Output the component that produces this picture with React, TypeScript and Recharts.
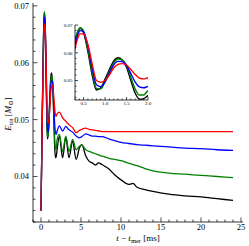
import { LineChart, Line, XAxis, YAxis } from "recharts";

// time after merger [ms]
const T = [
  0, 0.15, 0.3, 0.36, 0.42, 0.5, 0.6, 0.7, 0.8, 0.9, 1.0, 1.1, 1.2, 1.3, 1.4,
  1.5, 1.6, 1.7, 1.8, 1.9, 2.0, 2.3, 2.7, 3.1, 3.5, 3.95, 4.4, 4.8, 5.1, 5.6,
  6.0, 6.4, 6.8, 7.2, 7.6, 8.5, 9.2, 10, 11, 11.5, 12, 13, 14, 16, 18, 20, 22,
  24,
];

const BLACK = [
  0.034, 0.05, 0.064, 0.0675, 0.0688, 0.0672, 0.0605, 0.052, 0.0466, 0.0474,
  0.0505, 0.054, 0.057, 0.0582, 0.0574, 0.0548, 0.05, 0.0455, 0.0433, 0.0435,
  0.0446, 0.0471, 0.0433, 0.0469, 0.0433, 0.0462, 0.043, 0.045, 0.0456, 0.0436,
  0.0427, 0.0424, 0.042, 0.0424, 0.0421, 0.0413, 0.0403, 0.0394, 0.0386,
  0.0388, 0.0381, 0.0377, 0.0374, 0.0369, 0.0366, 0.0364, 0.0361, 0.0358,
];

const GREEN = [
  0.034, 0.0502, 0.0635, 0.0675, 0.069, 0.0678, 0.0615, 0.053, 0.0472, 0.047,
  0.0497, 0.0533, 0.0563, 0.0577, 0.0574, 0.0554, 0.0512, 0.047, 0.0448,
  0.0448, 0.0464, 0.0474, 0.0444, 0.0471, 0.0444, 0.0465, 0.0447, 0.0453,
  0.0455, 0.0447, 0.0444, 0.0442, 0.044, 0.0438, 0.0436, 0.0432, 0.043, 0.0428,
  0.0423, 0.0421, 0.0419, 0.0414, 0.041, 0.0406, 0.0404, 0.0402, 0.04, 0.0398,
];

const BLUE = [
  0.034, 0.0495, 0.0625, 0.0662, 0.068, 0.0675, 0.0625, 0.0545, 0.0485,
  0.0478, 0.0495, 0.0527, 0.0556, 0.0569, 0.0568, 0.0555, 0.0525, 0.0495,
  0.0477, 0.0474, 0.0479, 0.0489, 0.048, 0.0488, 0.0482, 0.0478, 0.0471,
  0.0468, 0.047, 0.0475, 0.0473, 0.0471, 0.0471, 0.047, 0.047, 0.0466, 0.0463,
  0.046, 0.0458, 0.0457, 0.0456, 0.0455, 0.0454, 0.0452, 0.045, 0.0449,
  0.0447, 0.0446,
];

const RED = [
  0.034, 0.049, 0.0615, 0.065, 0.0668, 0.0668, 0.063, 0.056, 0.05, 0.0494,
  0.05, 0.052, 0.0545, 0.0558, 0.0561, 0.0556, 0.054, 0.0522, 0.0509, 0.0506,
  0.051, 0.0513, 0.0503, 0.0497, 0.0491, 0.0486, 0.0477, 0.0481, 0.0483,
  0.0485, 0.0483, 0.0482, 0.0481, 0.048, 0.0479, 0.0479, 0.0479, 0.0479,
  0.0479, 0.0479, 0.0479, 0.0479, 0.0479, 0.0479, 0.0479, 0.0479, 0.0479,
  0.0479,
];

const X_MAJOR = [0, 5, 10, 15, 20, 25];
const X_LABELS = ["0", "5", "10", "15", "20", "25"];
const Y_MAJOR = [0.04, 0.05, 0.06, 0.07];
const Y_LABELS = ["0.04", "0.05", "0.06", "0.07"];
const INSET_X_MAJOR = [0.5, 1.0, 1.5, 2.0];
const INSET_X_LABELS = ["0.5", "1.0", "1.5", "2.0"];
const INSET_Y_MAJOR = [0.05, 0.06, 0.07];
const INSET_Y_LABELS = ["0.05", "0.06", "0.07"];

const SERIES = [
  { key: "black", color: "#000000" },
  { key: "green", color: "#008000" },
  { key: "blue", color: "#0000ff" },
  { key: "red", color: "#ff0000" },
];

const data = T.map((t, i) => ({
  t,
  black: BLACK[i],
  green: GREEN[i],
  blue: BLUE[i],
  red: RED[i],
}));

const FONT = "'Liberation Serif', 'DejaVu Serif', serif";

function steps(from: number, to: number, step: number) {
  const out: number[] = [];
  for (let v = from; v <= to + 1e-9; v += step) out.push(+v.toFixed(4));
  return out;
}

const X_TICKS = steps(-1, 25, 1);
const Y_TICKS = steps(0.032, 0.07, 0.002);
const INSET_X_TICKS = steps(0.3, 2.0, 0.1);
const INSET_Y_TICKS = steps(0.044, 0.07, 0.002);

// Ticks point into the plot; only majors get a label.
function makeTick(
  side: "bottom" | "top" | "left" | "right",
  majors: number[],
  labels: string[] | null,
  len: number,
  minorLen: number,
  fontSize: number,
  gap: number,
) {
  return (props: any) => {
    const { x, y, payload } = props;
    const idx = majors.findIndex((m) => Math.abs(m - payload.value) < 1e-6);
    const L = idx >= 0 ? len : minorLen;
    let line;
    if (side === "bottom") line = <line x1={x} x2={x} y1={y} y2={y - L} />;
    else if (side === "top") line = <line x1={x} x2={x} y1={y} y2={y + L} />;
    else if (side === "left") line = <line x1={x} x2={x + L} y1={y} y2={y} />;
    else line = <line x1={x} x2={x - L} y1={y} y2={y} />;
    return (
      <g stroke="#000" strokeWidth={0.7}>
        {line}
        {labels && idx >= 0 && side === "bottom" && (
          <text
            x={x}
            y={y + gap}
            textAnchor="middle"
            dy="0.71em"
            stroke="none"
            fill="#000"
            fontSize={fontSize}
            fontFamily={FONT}
          >
            {labels[idx]}
          </text>
        )}
        {labels && idx >= 0 && side === "left" && (
          <text
            x={x - gap}
            y={y}
            textAnchor="end"
            dy="0.35em"
            stroke="none"
            fill="#000"
            fontSize={fontSize}
            fontFamily={FONT}
          >
            {labels[idx]}
          </text>
        )}
      </g>
    );
  };
}

function XTitle() {
  return (
    <text x={138} y={241} textAnchor="middle" fontSize={9} fontFamily={FONT} fill="#000">
      <tspan fontStyle="italic">t</tspan>
      <tspan> − </tspan>
      <tspan fontStyle="italic">t</tspan>
      <tspan fontSize={6.5} dy={1.8}>mer</tspan>
      <tspan dy={-1.8}> [ms]</tspan>
    </text>
  );
}

function YTitle() {
  return (
    <text
      transform="translate(11,114) rotate(-90)"
      textAnchor="middle"
      fontSize={9}
      fontFamily={FONT}
      fill="#000"
    >
      <tspan fontStyle="italic">E</tspan>
      <tspan fontSize={6.5} dy={1.8}>tot</tspan>
      <tspan dy={-1.8}> [</tspan>
      <tspan fontStyle="italic">M</tspan>
      <tspan fontSize={6.5} dy={1.8}>⊙</tspan>
      <tspan dy={-1.8}>]</tspan>
    </text>
  );
}

const axisLine = { stroke: "#000", strokeWidth: 0.8 };

export default function App() {
  return (
    <div
      style={{
        position: "absolute",
        left: 0,
        top: 0,
        width: 249,
        height: 246,
        background: "#fff",
      }}
    >
      <LineChart
        width={249}
        height={246}
        data={data}
        margin={{ top: 3, right: 6, left: 0, bottom: 0 }}
      >
        <XAxis
          xAxisId="b"
          type="number"
          dataKey="t"
          domain={[-1, 25.25]}
          allowDataOverflow
          ticks={X_TICKS}
          interval={0}
          height={24}
          tickSize={0}
          tickMargin={0}
          tickLine={false}
          axisLine={axisLine}
          tick={makeTick("bottom", X_MAJOR, X_LABELS, 4.5, 2.5, 8.5, 2)}
          label={<XTitle />}
        />
        <XAxis
          xAxisId="t"
          orientation="top"
          type="number"
          dataKey="t"
          domain={[-1, 25.25]}
          allowDataOverflow
          ticks={X_TICKS}
          interval={0}
          height={0}
          tickSize={0}
          tickMargin={0}
          tickLine={false}
          axisLine={axisLine}
          tick={makeTick("top", X_MAJOR, null, 4.5, 2.5, 8.5, 2)}
        />
        <YAxis
          yAxisId="l"
          type="number"
          domain={[0.032, 0.0705]}
          allowDataOverflow
          ticks={Y_TICKS}
          interval={0}
          width={33}
          tickSize={0}
          tickMargin={0}
          tickLine={false}
          axisLine={axisLine}
          tick={makeTick("left", Y_MAJOR, Y_LABELS, 4.5, 2.5, 8.5, 4)}
          label={<YTitle />}
        />
        <YAxis
          yAxisId="r"
          orientation="right"
          type="number"
          domain={[0.032, 0.0705]}
          allowDataOverflow
          ticks={Y_TICKS}
          interval={0}
          width={0}
          tickSize={0}
          tickMargin={0}
          tickLine={false}
          axisLine={axisLine}
          tick={makeTick("right", Y_MAJOR, null, 4.5, 2.5, 8.5, 4)}
        />
        {SERIES.map((s) => (
          <Line
            key={s.key}
            xAxisId="b"
            yAxisId="l"
            type="monotone"
            dataKey={s.key}
            stroke={s.color}
            strokeWidth={1.3}
            dot={false}
            isAnimationActive={false}
          />
        ))}
      </LineChart>

      <div style={{ position: "absolute", left: 55, top: 20, width: 100, height: 92 }}>
        <div
          style={{
            position: "absolute",
            left: 20,
            top: 5,
            width: 73,
            height: 75,
            background: "#fff",
          }}
        />
        <LineChart
          width={100}
          height={92}
          data={data}
          margin={{ top: 5, right: 7, left: 0, bottom: 0 }}
        >
          <XAxis
            xAxisId="b"
            type="number"
            dataKey="t"
            domain={[0.3, 2.0]}
            allowDataOverflow
            ticks={INSET_X_TICKS}
            interval={0}
            height={12}
            tickSize={0}
            tickMargin={0}
            tickLine={false}
            axisLine={axisLine}
            tick={makeTick("bottom", INSET_X_MAJOR, INSET_X_LABELS, 3, 1.5, 5, 1.5)}
          />
          <XAxis
            xAxisId="t"
            orientation="top"
            type="number"
            dataKey="t"
            domain={[0.3, 2.0]}
            allowDataOverflow
            ticks={INSET_X_TICKS}
            interval={0}
            height={0}
            tickSize={0}
            tickMargin={0}
            tickLine={false}
            axisLine={axisLine}
            tick={makeTick("top", INSET_X_MAJOR, null, 3, 1.5, 5, 1.5)}
          />
          <YAxis
            yAxisId="l"
            type="number"
            domain={[0.043, 0.07]}
            allowDataOverflow
            ticks={INSET_Y_TICKS}
            interval={0}
            width={20}
            tickSize={0}
            tickMargin={0}
            tickLine={false}
            axisLine={axisLine}
            tick={makeTick("left", INSET_Y_MAJOR, INSET_Y_LABELS, 3, 1.5, 5, 2.5)}
          />
          <YAxis
            yAxisId="r"
            orientation="right"
            type="number"
            domain={[0.043, 0.07]}
            allowDataOverflow
            ticks={INSET_Y_TICKS}
            interval={0}
            width={0}
            tickSize={0}
            tickMargin={0}
            tickLine={false}
            axisLine={axisLine}
            tick={makeTick("right", INSET_Y_MAJOR, null, 3, 1.5, 5, 2.5)}
          />
          {SERIES.map((s) => (
            <Line
              key={s.key}
              xAxisId="b"
              yAxisId="l"
              type="monotone"
              dataKey={s.key}
              stroke={s.color}
              strokeWidth={1.4}
              dot={false}
              isAnimationActive={false}
            />
          ))}
        </LineChart>
      </div>
    </div>
  );
}
